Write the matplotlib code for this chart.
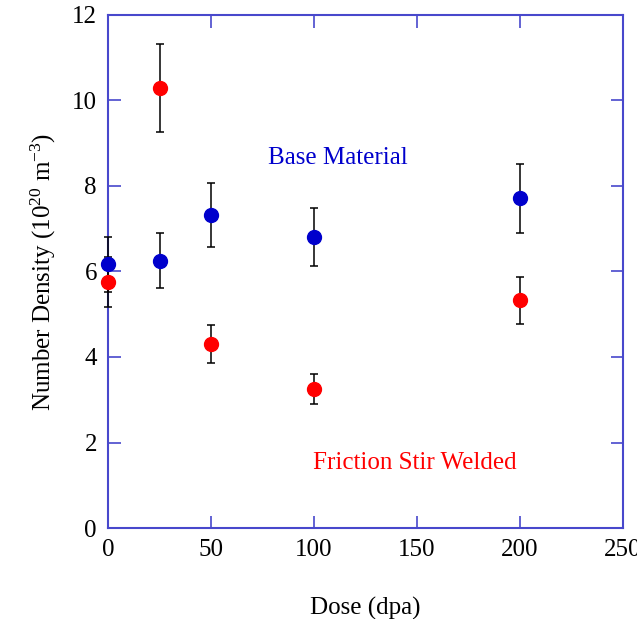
import matplotlib
matplotlib.use('Agg')
import matplotlib.pyplot as plt

plt.rcParams['font.family'] = ['Liberation Serif', 'DejaVu Serif']
plt.rcParams['mathtext.fontset'] = 'custom'
plt.rcParams['mathtext.rm'] = 'Liberation Serif'
plt.rcParams['mathtext.it'] = 'Liberation Serif:italic'

# dose in dpa
dose = [0, 25, 50, 100, 200]

# base material number density (10^20 m^-3)
base = [6.17, 6.25, 7.32, 6.81, 7.71]
base_err = [0.64, 0.64, 0.74, 0.68, 0.80]

# friction stir welded number density (10^20 m^-3)
fsw = [5.76, 10.29, 4.30, 3.26, 5.33]
fsw_err = [0.59, 1.03, 0.44, 0.35, 0.55]

x_ticks = [0, 50, 100, 150, 200, 250]
y_ticks = [0, 2, 4, 6, 8, 10, 12]

spine_color = '#4848cc'


def main():
    fig = plt.figure(figsize=(6.37, 6.19), dpi=100)
    ax = fig.add_axes([0.1696, 0.147, 0.8084, 0.8288])

    for y, err, color in ((base, base_err, '#0000cc'), (fsw, fsw_err, '#ff0000')):
        ax.errorbar(dose, y, yerr=err, fmt='o', color=color, markersize=10,
                    ecolor='black', elinewidth=1.1, capsize=3, capthick=1.1,
                    clip_on=False, zorder=3)

    ax.text(77.5, 8.65, 'Base Material', color='#0000cc', fontsize=18, va='center')
    ax.text(99.5, 1.52, 'Friction Stir Welded', color='#ff0000', fontsize=18, va='center')

    ax.set_xlim(0, 250)
    ax.set_ylim(0, 12)
    ax.set_xticks(x_ticks)
    ax.set_yticks(y_ticks)
    ax.set_xlabel('Dose (dpa)', fontsize=18, labelpad=26)
    ax.set_ylabel('Number Density (10$^{20}$ m$^{-3}$)', fontsize=18, labelpad=10)

    for spine in ax.spines.values():
        spine.set_color(spine_color)
        spine.set_linewidth(1.5)
    ax.tick_params(axis='both', direction='in', top=True, right=True,
                   length=9, width=1.2, color=spine_color, labelsize=18, pad=8)

    plt.savefig('out.png', dpi=100)


if __name__ == '__main__':
    main()
